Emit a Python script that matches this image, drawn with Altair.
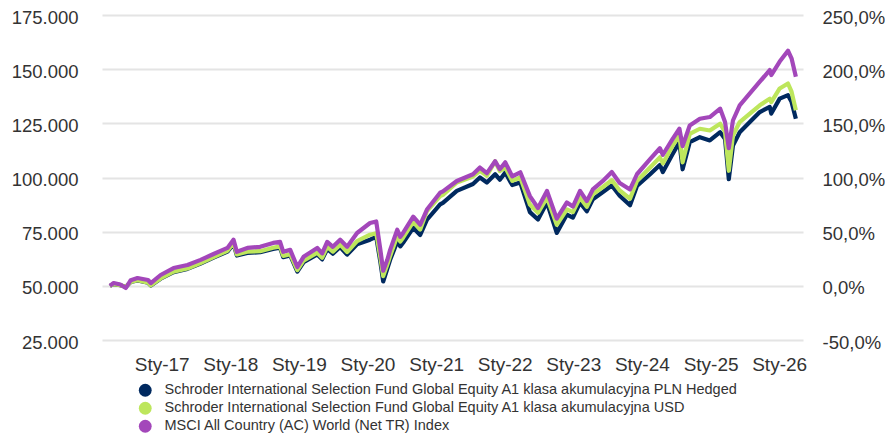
import altair as alt
import pandas as pd

series_names = [
    "Schroder International Selection Fund Global Equity A1 klasa akumulacyjna PLN Hedged",
    "Schroder International Selection Fund Global Equity A1 klasa akumulacyjna USD",
    "MSCI All Country (AC) World (Net TR) Index",
]
series_colors = ["#00295f", "#bde65c", "#a347ba"]

dates = [
    "2016-03-31", "2016-04-20", "2016-05-25", "2016-06-24", "2016-07-20", "2016-08-25",
    "2016-10-20", "2016-11-04", "2016-12-26", "2017-03-05", "2017-05-18", "2017-07-27",
    "2017-10-04", "2017-12-17", "2018-01-18", "2018-02-05", "2018-04-02", "2018-06-09",
    "2018-08-17", "2018-09-23", "2018-10-10", "2018-11-16", "2018-12-24", "2019-01-26",
    "2019-04-09", "2019-05-05", "2019-06-01", "2019-07-01", "2019-08-09", "2019-09-15",
    "2019-11-07", "2020-01-15", "2020-02-17", "2020-03-10", "2020-03-25", "2020-04-16",
    "2020-05-01", "2020-06-08", "2020-06-24", "2020-07-09", "2020-09-01", "2020-10-08",
    "2020-11-13", "2021-01-22", "2021-02-06", "2021-04-21", "2021-07-16", "2021-08-22",
    "2021-09-28", "2021-11-11", "2021-12-06", "2022-01-04", "2022-02-10", "2022-03-25",
    "2022-05-15", "2022-06-27", "2022-08-14", "2022-10-05", "2022-11-28", "2022-12-30",
    "2023-02-06", "2023-03-14", "2023-04-15", "2023-06-06", "2023-07-25", "2023-09-05",
    "2023-10-30", "2023-12-06", "2024-02-14", "2024-04-06", "2024-04-22", "2024-06-13",
    "2024-07-19", "2024-08-05", "2024-09-12", "2024-11-05", "2024-12-28", "2025-02-21",
    "2025-03-19", "2025-04-08", "2025-04-30", "2025-06-05", "2025-07-29", "2025-09-20",
    "2025-11-12", "2025-11-20", "2026-01-04", "2026-02-17", "2026-03-08", "2026-03-31",
]

# values in thousands
msci = [
    50.0, 51.3, 50.6, 49.0, 52.6, 53.6, 52.7, 51.3, 55.0, 58.2, 59.6, 62.0,
    64.7, 67.5, 71.3, 65.7, 67.5, 68.0, 69.8, 70.3, 65.7, 66.6, 58.7, 63.4,
    67.5, 65.0, 70.3, 68.0, 71.3, 68.0, 74.4, 79.0, 79.7, 66.6, 57.0, 62.0,
    66.6, 75.9, 72.6, 74.4, 81.9, 78.2, 85.2, 93.0, 93.6, 98.4, 101.5, 104.6,
    102.0, 107.5, 103.8, 107.0, 100.5, 102.4, 91.4, 85.9, 93.8, 81.0, 88.5, 86.6,
    93.8, 89.1, 94.5, 98.3, 102.5, 97.5, 94.5, 101.5, 108.5, 113.5, 110.5, 117.8,
    122.5, 114.5, 124.0, 127.1, 127.9, 131.8, 125.6, 113.5, 126.3, 133.3, 138.8, 144.2,
    149.6, 147.3, 153.5, 158.5, 155.0, 146.5,
]
usd = [
    50.0, 50.8, 50.3, 49.6, 51.8, 52.6, 51.5, 50.2, 53.4, 56.5, 58.0, 60.5,
    63.3, 66.2, 69.8, 64.5, 65.8, 66.0, 67.6, 68.2, 63.8, 64.6, 57.3, 61.6,
    65.3, 63.0, 68.0, 65.8, 69.0, 65.6, 70.6, 73.6, 74.3, 63.0, 54.5, 59.8,
    63.8, 73.0, 70.4, 72.2, 79.5, 76.0, 84.5, 91.4, 92.0, 97.7, 100.5, 103.1,
    100.8, 107.5, 103.0, 104.6, 98.5, 100.0, 87.5, 83.7, 90.7, 78.2, 85.3, 84.0,
    90.7, 86.5, 92.2, 95.5, 98.8, 94.0, 90.2, 98.4, 104.6, 109.3, 106.5, 114.7,
    119.4, 107.0, 120.1, 122.5, 121.7, 124.8, 121.0, 103.1, 119.4, 125.6, 129.5, 133.3,
    136.4, 134.8, 141.1, 143.4, 139.6, 131.0,
]
pln_hedged = [
    50.0, 50.8, 50.3, 49.6, 51.8, 52.5, 51.4, 50.1, 53.3, 56.3, 57.8, 60.3,
    63.0, 65.8, 69.3, 64.0, 65.2, 65.5, 67.0, 67.6, 63.2, 64.0, 56.6, 60.9,
    64.5, 62.2, 67.0, 64.8, 67.9, 64.4, 69.2, 71.3, 72.6, 61.0, 52.0, 58.0,
    62.0, 70.5, 68.2, 69.9, 76.8, 73.5, 80.5, 87.6, 88.3, 93.8, 97.0, 100.0,
    97.7, 101.5, 99.0, 102.3, 96.5, 97.7, 84.0, 80.6, 88.4, 74.4, 82.9, 81.5,
    88.4, 84.4, 89.9, 93.2, 96.3, 91.6, 87.2, 96.1, 101.5, 105.8, 102.5, 110.8,
    116.3, 103.8, 116.3, 118.6, 117.1, 120.9, 117.8, 99.2, 114.7, 120.9, 125.6, 130.2,
    132.6, 129.5, 136.4, 138.0, 134.9, 127.1,
]

y_ticks = [25000, 50000, 75000, 100000, 125000, 150000, 175000]
x_tick_years = list(range(2017, 2027))

rows = []
for name, vals in zip(series_names, [pln_hedged, usd, msci]):
    for d, v in zip(dates, vals):
        rows.append({"date": d, "series": name, "value": v * 1000})
df = pd.DataFrame(rows)
df["order"] = df["series"].map({n: i for i, n in enumerate(series_names)})

FONT = "Liberation Sans"
LABEL_COLOR = "#333333"

x_enc = alt.X(
    "date:T",
    scale=alt.Scale(domain=[alt.DateTime(year=2016, month=2, date=18),
                            alt.DateTime(year=2026, month=5, date=8)]),
    axis=alt.Axis(
        title=None,
        values=[alt.DateTime(year=y, month=1, date=1) for y in x_tick_years],
        labelExpr="'Sty-' + timeFormat(datum.value, '%y')",
        grid=False, domain=False, ticks=False, tickSize=0,
        labelFont=FONT, labelFontSize=19, labelColor=LABEL_COLOR,
        labelPadding=15, labelBaseline="top",
    ),
)

y_scale = alt.Scale(domain=[25000, 175000])
color_scale = alt.Scale(domain=series_names, range=series_colors)

lines = alt.Chart(df).mark_line(strokeWidth=4.2, strokeJoin="round").encode(
    x=x_enc,
    y=alt.Y(
        "value:Q",
        scale=y_scale,
        axis=alt.Axis(
            title=None, orient="left", values=y_ticks,
            labelExpr="replace(format(datum.value, ',.0f'), ',', '.')",
            grid=True, gridColor="#e4e4e4", gridWidth=2,
            domain=False, ticks=False, tickSize=0,
            labelFont=FONT, labelFontSize=18.5, labelColor=LABEL_COLOR,
            labelPadding=24, labelOffset=2,
        ),
    ),
    color=alt.Color("series:N", scale=color_scale, legend=None),
    order=alt.Order("order:Q"),
    detail="series:N",
)

# invisible points that only carry the legend (filled circle symbols) and the right axis
legend_layer = alt.Chart(df).mark_circle(size=0, opacity=0).encode(
    x=alt.X("date:T"),
    y=alt.Y(
        "value:Q",
        scale=y_scale,
        axis=alt.Axis(
            title=None, orient="right", values=y_ticks,
            labelExpr="replace(replace(format(datum.value / 500 - 100, '.1f'), '.', ','), '\u2212', '-') + '%'",
            grid=False, domain=False, ticks=False, tickSize=0,
            labelFont=FONT, labelFontSize=18.5, labelColor=LABEL_COLOR,
            labelPadding=19, labelOffset=2,
        ),
    ),
    color=alt.Color(
        "series:N",
        scale=color_scale,
        legend=alt.Legend(
            title=None, orient="none", legendX=36, legendY=368,
            direction="vertical", symbolType="circle", symbolSize=165,
            symbolStrokeWidth=0, symbolOpacity=1,
            labelFont=FONT, labelFontSize=14.5, labelColor=LABEL_COLOR,
            labelOffset=12, rowPadding=3, padding=0, labelLimit=800,
        ),
    ),
)

chart = alt.layer(lines, legend_layer).resolve_axis(y="independent").resolve_legend(
    color="independent"
).properties(
    width=701,
    height=325,
    autosize=alt.AutoSizeParams(type="none"),
    padding={"left": 94, "top": 7, "right": 82, "bottom": 94},
).configure_view(stroke=None)

chart.save("out.html", embed_options={"renderer": "svg", "actions": False})
